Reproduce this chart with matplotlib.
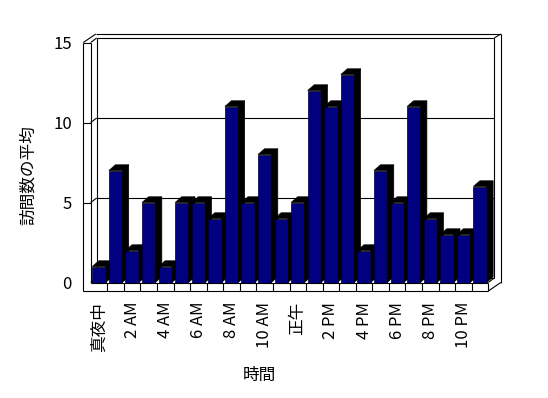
#!/usr/bin/env python3

import matplotlib
matplotlib.use("Agg")
import matplotlib.pyplot as plt
from matplotlib.patches import Polygon


# ---------------------------------------------------
# DATA
# ---------------------------------------------------
HOURS = list(range(24))
VISITS = [1, 7, 2, 5, 1, 5, 5, 4, 11, 5, 8, 4,
          5, 12, 11, 13, 2, 7, 5, 11, 4, 3, 3, 6]

TICK_HOURS = [0, 2, 4, 6, 8, 10, 12, 14, 16, 18, 20, 22]
TICK_LABELS = ["真夜中", "2 AM", "4 AM", "6 AM", "8 AM", "10 AM",
               "正午", "2 PM", "4 PM", "6 PM", "8 PM", "10 PM"]
Y_TICKS = [0, 5, 10, 15]

X_LABEL = "時間"
Y_LABEL = "訪問数の平均"


plt.rcParams["font.family"] = ["Noto Sans CJK JP", "DejaVu Sans"]

NAVY = "#000080"
LW = 0.8


def main():

    fig = plt.figure(figsize=(5.48, 3.98), dpi=100)
    ax = fig.add_axes([90.7 / 548, 115.5 / 398, 397.6 / 548, 240 / 398])

    n = len(HOURS)
    ax.set_xlim(-0.5, n - 0.5)
    ax.set_ylim(0, 15)

    # pixels per data unit, used for the fake 3d depth
    px = 397.6 / n
    py = 240 / 15

    x0, x1 = -0.5, n - 0.5
    top = 15
    xl = x0 - 7.4 / px
    yb = -8.5 / py
    d1x, d1y = 6 / px, 4.5 / py
    d2x, d2y = 12.5 / px, 8.5 / py
    bdx, bdy = 6.5 / px, 5.7 / py

    def line(xs, ys, z=1):
        ax.plot(xs, ys, color="black", lw=LW, clip_on=False, zorder=z,
                solid_capstyle="butt")

    # back wall
    line([x0 + d1x, x0 + d1x], [d1y, top + d1y])
    line([x0 + d1x, x1 + d1x], [top + d1y, top + d1y])
    line([x1 + d1x, x1 + d1x], [top + d1y, d1y])
    line([x0 + d1x, x1 + d1x], [d1y, d1y])
    line([xl + d2x, x1 + d2x], [top + d2y, top + d2y])
    line([x1 + d2x, x1 + d2x], [top + d2y, yb + d2y])
    line([x1 + d1x, x1 + d2x], [top + d1y, top + d2y])
    line([x1, x1 + d2x], [yb, yb + d2y])
    line([x1, x1 + d1x], [0, d1y])

    # gridlines wrapping round the left wall
    for yv in Y_TICKS[1:-1]:
        line([x0 + d1x, x1 + d1x], [yv + d1y, yv + d1y])
        line([x0, x0 + d1x], [yv, yv + d1y])
        line([xl, x0], [yv, yv])

    # left wall
    line([xl, xl], [yb, top], z=4)
    line([x0, x0], [0, top])
    line([xl, x0], [top, top])
    line([xl, xl + d2x], [top, top + d2y])
    line([x0, x0 + d1x], [top, top + d1y])
    line([x0, x0 + d1x], [0, d1y])

    # floor slab with category cells
    line([xl, x1], [yb, yb], z=4)
    line([x0, x1], [0, 0], z=4)
    line([x1, x1], [0, yb], z=4)
    for k in range(1, n):
        line([x0 + k, x0 + k], [yb, 0], z=4)

    # bars: black depth first, navy fronts on top
    w = 0.8
    for x, v in zip(HOURS, VISITS):
        l, r = x - w / 2, x + w / 2
        top_face = [(l, v), (r, v), (r + bdx, v + bdy), (l + bdx, v + bdy)]
        side_face = [(r, 0), (r, v), (r + bdx, v + bdy), (r + bdx, bdy)]
        for pts in (top_face, side_face):
            ax.add_patch(Polygon(pts, closed=True, facecolor="black",
                                 edgecolor="black", lw=0.5, zorder=2,
                                 clip_on=False))

    ax.bar(HOURS, VISITS, width=w, color=NAVY, edgecolor="black",
           linewidth=0.5, zorder=3)

    # ticks and labels
    ax.set_xticks(TICK_HOURS)
    ax.set_xticklabels(TICK_LABELS, rotation=90, fontsize=12)
    ax.set_yticks(Y_TICKS)
    ax.set_yticklabels([str(t) for t in Y_TICKS], fontsize=12)
    ax.tick_params(axis="x", length=0, pad=13.8)
    ax.tick_params(axis="y", length=0, pad=13.5)

    for s in ax.spines.values():
        s.set_visible(False)
    ax.patch.set_visible(False)

    fig.text(28 / 548, 1 - 175 / 398, Y_LABEL, rotation=90,
             ha="center", va="center", fontsize=12)
    fig.text(259 / 548, 1 - 375 / 398, X_LABEL,
             ha="center", va="center", fontsize=12)

    plt.savefig("out.png", dpi=100)
    plt.close()


if __name__ == "__main__":
    main()
